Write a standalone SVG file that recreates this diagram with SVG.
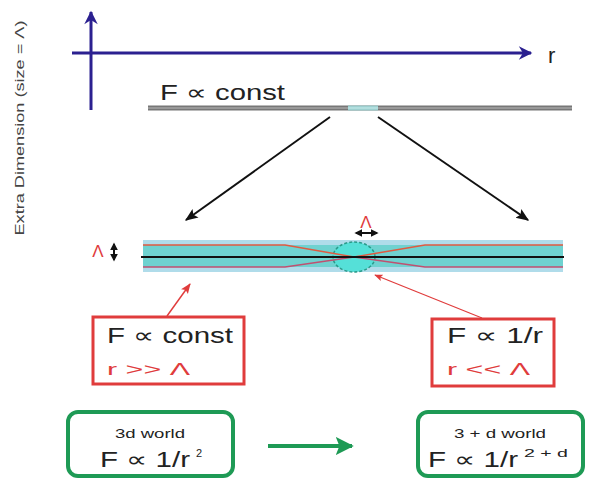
<svg xmlns="http://www.w3.org/2000/svg" width="595" height="486" viewBox="0 0 595 486">
<defs>
<marker id="navyHead" viewBox="0 0 10 10" refX="9" refY="5" markerWidth="6" markerHeight="4.5" orient="auto" markerUnits="strokeWidth"><path d="M0,0 L10,5 L0,10 L3,5 z" fill="#2b2090"/></marker>
<marker id="blackHead" viewBox="0 0 10 10" refX="9" refY="5" markerWidth="6.5" markerHeight="6.5" orient="auto" markerUnits="strokeWidth"><path d="M0,1 L10,5 L0,9 L2,5 z" fill="#111"/></marker>
<marker id="redHead" viewBox="0 0 10 10" refX="9" refY="5" markerWidth="7" markerHeight="7" orient="auto" markerUnits="strokeWidth"><path d="M0,1 L10,5 L0,9 L2,5 z" fill="#e03c3c"/></marker>
<marker id="greenHead" viewBox="0 0 10 10" refX="9" refY="5" markerWidth="4.5" markerHeight="4.5" orient="auto" markerUnits="strokeWidth"><path d="M0,0 L10,5 L0,10 L2,5 z" fill="#1e9a55"/></marker>
<marker id="dblHead" viewBox="0 0 10 10" refX="8" refY="5" markerWidth="4" markerHeight="4" orient="auto-start-reverse" markerUnits="strokeWidth"><path d="M0,0 L10,5 L0,10 z" fill="#111"/></marker>
</defs>
<style>
text{font-family:"Liberation Sans","DejaVu Sans",sans-serif;fill:#222}
.big{font-size:22px}
.red{fill:#e03c3c;font-size:17px}
.small{font-size:13px}
.sup{font-size:11px}
.redbox{fill:#fff;stroke:#e03c3c;stroke-width:3}
.greenbox{fill:#fff;stroke:#1e9a55;stroke-width:4}
</style>
<rect width="595" height="486" fill="#fff"/>

<text x="0" y="0" transform="translate(24,128) rotate(-90)" text-anchor="middle" font-size="13" textLength="215" lengthAdjust="spacingAndGlyphs" style="fill:#444">Extra Dimension (size = Λ)</text>

<g id="axes">
<line x1="91" y1="110" x2="91" y2="12" stroke="#2b2090" stroke-width="3" marker-end="url(#navyHead)"/>
<line x1="72" y1="53" x2="531" y2="53" stroke="#2b2090" stroke-width="3" marker-end="url(#navyHead)"/>
<text x="548" y="63" font-size="22">r</text>
</g>

<g id="top-line">
<text x="160" y="100" class="big" textLength="125" lengthAdjust="spacingAndGlyphs">F ∝ const</text>
<line x1="148" y1="108" x2="572" y2="108" stroke="#777" stroke-width="5"/>
<line x1="148" y1="108" x2="572" y2="108" stroke="#bbb" stroke-width="1"/>
<line x1="348" y1="108" x2="378" y2="108" stroke="#9ccfcf" stroke-width="5"/>
<line x1="348" y1="108" x2="378" y2="108" stroke="#c8eeee" stroke-width="1"/>
</g>

<g id="band">
<rect x="143" y="240" width="420" height="32" fill="#b0dcea"/>
<rect x="143" y="245" width="420" height="22" fill="#6fd2d0"/>
<ellipse cx="354" cy="257" rx="21" ry="15" fill="#55e0d8" stroke="#2a9a8a" stroke-width="1.5" stroke-dasharray="3,2"/>
<polyline points="143,245 285,245 354,257 425,245 563,245" fill="none" stroke="#e05a40" stroke-width="1.5"/>
<polyline points="143,267 285,267 354,257 425,267 563,267" fill="none" stroke="#c05070" stroke-width="1.5"/>
<line x1="141" y1="257" x2="564" y2="257" stroke="#111" stroke-width="2"/>
<text x="366" y="228" class="red" text-anchor="middle">Λ</text>
<line x1="356" y1="233" x2="377" y2="233" stroke="#111" stroke-width="2" marker-start="url(#dblHead)" marker-end="url(#dblHead)"/>
<text x="98" y="257" class="red" text-anchor="middle">Λ</text>
<line x1="114" y1="244" x2="114" y2="260" stroke="#111" stroke-width="2" marker-start="url(#dblHead)" marker-end="url(#dblHead)"/>
</g>

<g id="connectors">
<line x1="330" y1="117" x2="186" y2="220" stroke="#111" stroke-width="2" marker-end="url(#blackHead)"/>
<line x1="378" y1="117" x2="528" y2="220" stroke="#111" stroke-width="2" marker-end="url(#blackHead)"/>
<line x1="167" y1="316" x2="190" y2="284" stroke="#e03c3c" stroke-width="1.5" marker-end="url(#redHead)"/>
<line x1="482" y1="318" x2="375" y2="275" stroke="#e03c3c" stroke-width="1.2" marker-end="url(#redHead)"/>
<line x1="268" y1="446" x2="352" y2="446" stroke="#1e9a55" stroke-width="4" marker-end="url(#greenHead)"/>
</g>

<g id="box-const">
<rect x="93" y="317" width="151" height="67" class="redbox"/>
<text x="107" y="343" class="big" textLength="126" lengthAdjust="spacingAndGlyphs">F ∝ const</text>
<text x="107" y="375" class="red" textLength="83" lengthAdjust="spacingAndGlyphs">r &gt;&gt; Λ</text>
</g>

<g id="box-inv">
<rect x="432" y="319" width="122" height="67" class="redbox"/>
<text x="447" y="343" class="big" textLength="96" lengthAdjust="spacingAndGlyphs">F ∝ 1/r</text>
<text x="447" y="375" class="red" textLength="83" lengthAdjust="spacingAndGlyphs">r &lt;&lt; Λ</text>
</g>

<g id="box-3d">
<rect x="68" y="412" width="165" height="64" rx="10" class="greenbox"/>
<text x="150" y="438" class="small" text-anchor="middle" textLength="70" lengthAdjust="spacingAndGlyphs">3d world</text>
<text x="100" y="467" class="big" textLength="90" lengthAdjust="spacingAndGlyphs">F ∝ 1/r</text>
<text x="196" y="457" class="sup">2</text>
</g>

<g id="box-3d-plus">
<rect x="418" y="412" width="165" height="64" rx="10" class="greenbox"/>
<text x="500" y="438" class="small" text-anchor="middle" textLength="92" lengthAdjust="spacingAndGlyphs">3 + d world</text>
<text x="428" y="467" class="big" textLength="90" lengthAdjust="spacingAndGlyphs">F ∝ 1/r</text>
<text x="524" y="457" class="sup" textLength="44" lengthAdjust="spacingAndGlyphs">2 + d</text>
</g>
</svg>
